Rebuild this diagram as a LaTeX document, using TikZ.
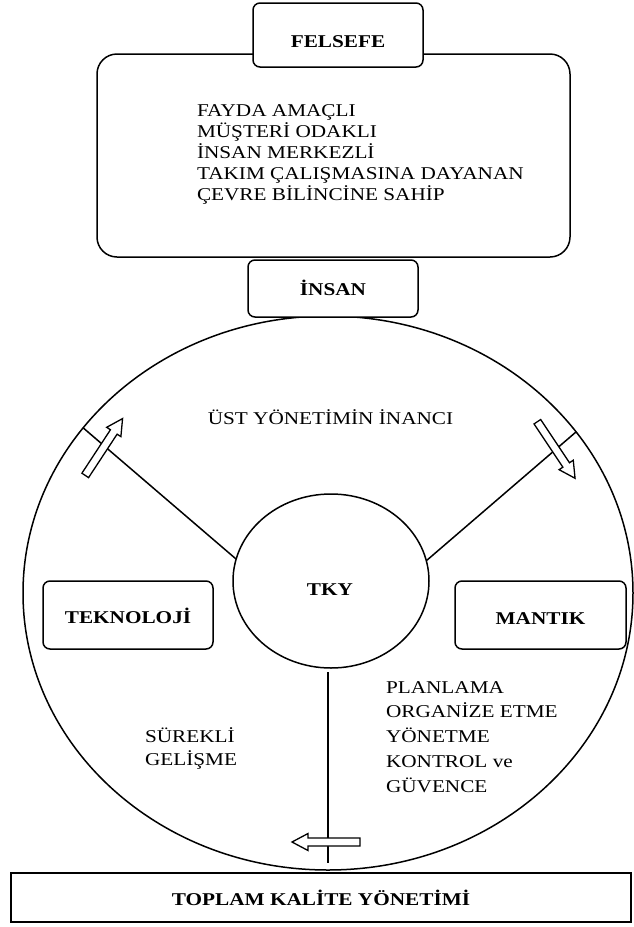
\documentclass[tikz,border=0pt]{standalone}
\usepackage{fontspec}
\setmainfont{Liberation Serif}[FakeStretch=1.18]
\usetikzlibrary{shapes.geometric}
\begin{document}
\begin{tikzpicture}[x=1pt, y=-1pt, line width=1.5pt,
  every node/.style={inner sep=0pt, outer sep=0pt},
  plain/.style={font=\fontsize{18}{21}\selectfont},
  heading/.style={font=\bfseries\fontsize{18}{21}\selectfont},
  roundbox/.style={draw, fill=white, rectangle, rounded corners=7pt},
  lift/.style={text height=#1, text depth=0pt},
  blockarrow/.pic={
    \draw[fill=white, line width=1.3pt, line join=miter]
      (-34,-4) -- (18,-4) -- (18,-8.5) -- (34,0) -- (18,8.5) -- (18,4) -- (-34,4) -- cycle;
  }]
\useasboundingbox (0,0) rectangle (633,927);

% philosophy panel with its heading tab
\node[roundbox, rounded corners=20pt, minimum width=473pt, minimum height=203pt] (phil) at (333.5,155.5) {};
\node[roundbox, heading, lift=24pt, minimum width=170pt, minimum height=64pt] (felsefe) at (338,35) {FELSEFE};
% multi-line texts are anchored at the baseline of their last line
\node[plain, anchor=base west, align=left] (values) at (197,200)
  {FAYDA AMAÇLI\\MÜŞTERİ ODAKLI\\İNSAN MERKEZLİ\\TAKIM ÇALIŞMASINA DAYANAN\\ÇEVRE BİLİNCİNE SAHİP};

% outer ring and core
\node[draw, ellipse, minimum width=610pt, minimum height=554pt] (ring) at (328,593) {};
\node[draw, ellipse, minimum width=196pt, minimum height=174pt] (tky) at (331,581) {};
\node[heading, anchor=base] (tkylabel) at (330,595) {TKY};

% spokes
\draw (ring.146.2) -- (tky.167.7);
\draw (ring.33.4) -- (tky.12.9);
\coordinate (stemtop) at (328,672);
\coordinate (stembot) at (328,863);
\draw (stemtop) -- (stembot);

% hollow block arrows across the spokes
\pic[rotate=56.7] at (103.9,447) {blockarrow};
\pic[rotate=-56.3] at (556.2,450) {blockarrow};
\pic[rotate=180] at (326,842) {blockarrow};

% boxes on the ring
\node[roundbox, heading, lift=13pt, minimum width=170pt, minimum height=57pt] (insan) at (333,288.5) {İNSAN};
\node[roundbox, heading, lift=16pt, minimum width=170pt, minimum height=68pt] (tekno) at (128,615) {TEKNOLOJİ};
\node[roundbox, heading, lift=18pt, minimum width=171pt, minimum height=68pt] (mantik) at (540.5,615) {MANTIK};

% texts inside the ring
\node[plain, anchor=base] (belief) at (330.5,424) {ÜST YÖNETİMİN İNANCI};
\node[plain, anchor=base west, align=left, font=\fontsize{18}{23}\selectfont] (kaizen) at (145,765) {SÜREKLİ\\GELİŞME};
\node[plain, anchor=base west, align=left, font=\fontsize{18}{24.7}\selectfont] (functions) at (386,792)
  {PLANLAMA\\ORGANİZE ETME\\YÖNETME\\KONTROL ve\\GÜVENCE};

% base bar
\node[draw, rectangle, line width=2pt, heading, lift=15pt, minimum width=620pt, minimum height=49pt] (tkm) at (321,897.5) {TOPLAM KALİTE YÖNETİMİ};
\end{tikzpicture}
\end{document}
